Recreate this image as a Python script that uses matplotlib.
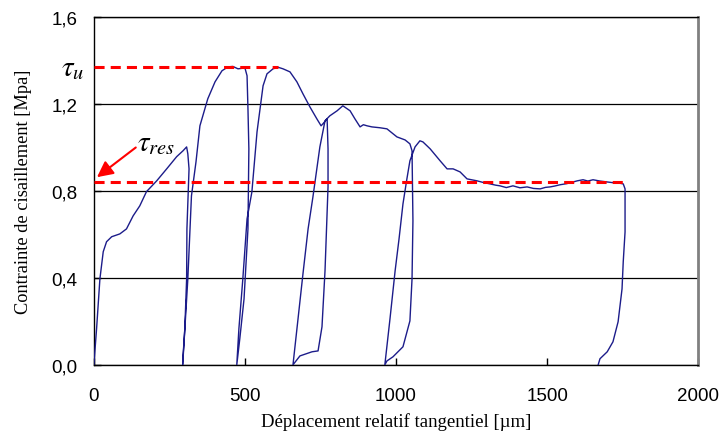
import matplotlib
matplotlib.use("Agg")
import matplotlib.pyplot as plt
import numpy as np

# Courbe contrainte de cisaillement / déplacement (cycles charge-décharge)
disp = [
    0, 9, 20, 31, 42, 59, 86, 108, 130, 152, 174, 208, 241, 274, 295, 307, 311, 315,
    308, 307, 301, 294, 294,
    311, 323, 338, 351, 377, 401, 424, 444, 460, 477, 500, 507,
    510, 513, 510, 497, 483, 473,
    480, 493, 507, 523, 540, 560, 573, 593, 610, 626, 649, 672, 692, 715, 738, 752, 758, 772,
    775, 775, 765, 755, 742, 722, 682, 659,
    672, 692, 709, 725, 748, 765, 781, 805, 824, 848, 864, 881, 892, 904, 920, 947, 970,
    1003, 1030, 1046, 1053,
    1056, 1053, 1046, 1023, 990, 970, 963,
    980, 997, 1010, 1023, 1036, 1046, 1063, 1079, 1089, 1113, 1146, 1169, 1189, 1212,
    1235, 1268, 1290, 1311, 1330, 1344, 1365, 1387, 1410, 1434, 1455, 1477, 1495, 1510,
    1525, 1543, 1565, 1586, 1600, 1619, 1635, 1652, 1675, 1699, 1715, 1732, 1752,
    1758, 1758, 1752, 1748, 1735, 1718, 1699, 1675, 1669,
]
tau = [
    0, 0.166, 0.395, 0.52, 0.566, 0.589, 0.602, 0.625, 0.685, 0.731, 0.796, 0.846, 0.901, 0.957, 0.984, 1.002, 0.970, 0.901,
    0.625, 0.395, 0.166, 0.014, 0,
    0.395, 0.777, 0.933, 1.099, 1.223, 1.301, 1.352, 1.370, 1.372, 1.361, 1.365, 1.329,
    1.177, 0.993, 0.625, 0.303, 0.12, 0,
    0.166, 0.395, 0.671, 0.795, 1.071, 1.283, 1.338, 1.361, 1.368, 1.361, 1.347, 1.301, 1.246, 1.186, 1.131, 1.099, 1.108, 1.131,
    0.993, 0.818, 0.432, 0.175, 0.064, 0.06, 0.041, 0,
    0.166, 0.418, 0.625, 0.772, 1.002, 1.122, 1.145, 1.168, 1.191, 1.168, 1.131, 1.094, 1.104, 1.099, 1.094, 1.090, 1.085,
    1.048, 1.034, 1.016, 0.984,
    0.662, 0.395, 0.202, 0.083, 0.037, 0.018, 0,
    0.211, 0.432, 0.579, 0.740, 0.855, 0.938, 1.002, 1.030, 1.025, 0.993, 0.938, 0.901, 0.901, 0.887,
    0.855, 0.846, 0.838, 0.832, 0.826, 0.823, 0.815, 0.823, 0.814, 0.818, 0.811, 0.809, 0.816, 0.818,
    0.822, 0.828, 0.833, 0.841, 0.846, 0.851, 0.845, 0.851, 0.845, 0.841, 0.838, 0.837, 0.832,
    0.809, 0.611, 0.474, 0.349, 0.198, 0.106, 0.06, 0.028, 0,
]

tau_u = 1.37
tau_u_end = 609
tau_res = 0.841
tau_res_end = 1758

xticks = [0, 500, 1000, 1500, 2000]
yticks = [0.0, 0.4, 0.8, 1.2, 1.6]

plt.rcParams["mathtext.fontset"] = "stix"

fig = plt.figure(figsize=(7.22, 4.35), dpi=100)
ax = fig.add_axes([0.130, 0.159, 0.837, 0.800])

ax.plot(disp, tau, color="#1c1c8a", lw=1.0, zorder=3)

ax.plot([0, tau_u_end], [tau_u, tau_u], color="red", lw=2.2,
        dashes=(3.3, 2.0), zorder=4, clip_on=False)
ax.plot([0, tau_res_end], [tau_res, tau_res], color="red", lw=2.2,
        dashes=(3.3, 2.0), zorder=4, clip_on=False)

ax.text(-70, tau_u, r"$\tau_u$", fontsize=21, ha="center", va="center")
ax.text(142, 1.025, r"$\tau_{res}$", fontsize=21, ha="left", va="center")
ax.annotate("", xy=(3, 0.855), xytext=(146, 1.007),
            arrowprops=dict(arrowstyle="-|>", color="red", lw=1.5,
                            mutation_scale=24), zorder=5)

ax.set_xlim(0, 2000)
ax.set_ylim(0, 1.6)
ax.set_xticks(xticks)
ax.set_yticks(yticks)
ax.set_xticklabels([str(v) for v in xticks])
ax.set_yticklabels([f"{v:.1f}".replace(".", ",") for v in yticks])
ax.tick_params(axis="both", direction="in", length=5, width=1, labelsize=13.5)
ax.tick_params(axis="x", pad=16)
ax.tick_params(axis="y", pad=12)
for lab in ax.get_xticklabels() + ax.get_yticklabels():
    lab.set_fontfamily("Liberation Sans")

ax.yaxis.grid(True, color="black", lw=0.9)
ax.set_axisbelow(True)

for side in ["left", "bottom", "top"]:
    ax.spines[side].set_color("black")
    ax.spines[side].set_linewidth(1.0)
ax.spines["right"].set_color("#808080")
ax.spines["right"].set_linewidth(2.0)

ax.set_xlabel("Déplacement relatif tangentiel [µm]", fontsize=13.5,
              family="Liberation Serif", labelpad=6)
ax.set_ylabel("Contrainte de cisaillement [Mpa]", fontsize=13.2,
              family="Liberation Serif", labelpad=14)

fig.savefig("out.png", dpi=100)
